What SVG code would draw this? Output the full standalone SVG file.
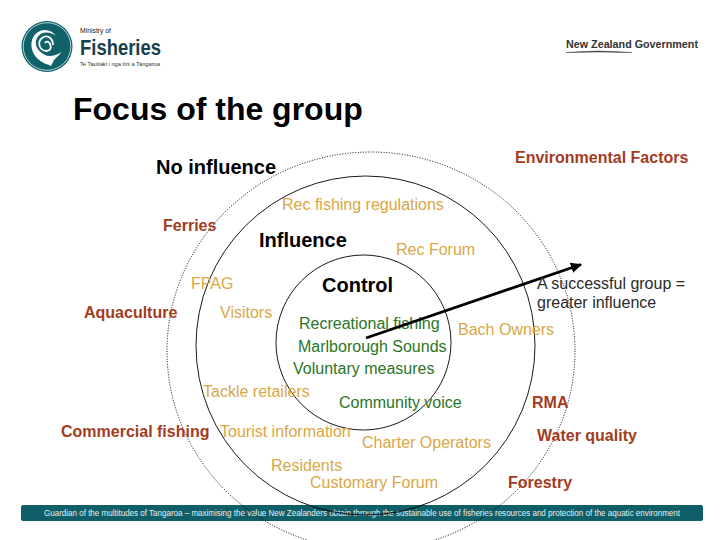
<svg xmlns="http://www.w3.org/2000/svg" width="720" height="540" viewBox="0 0 720 540">
<style>
text{font-family:"Liberation Sans",Arial,sans-serif;font-size:16px}
.h{font-weight:700;fill:#000;font-size:20px}
.b{font-weight:700;fill:#a33c1e}
.o{fill:#d9a745}
.g{fill:#2a7527}
.k{fill:#2a2a2a}
.c{fill:none;stroke:#000}
.d{stroke-dasharray:1 1.6}
</style>
<defs>
<marker id="ah" markerWidth="5" markerHeight="5" refX="3.6" refY="2.5" orient="auto"><path d="M0 .6L4 2.5L0 4.4z" fill="#000"/></marker>
</defs>
<rect width="720" height="540" fill="#fff"/>
<g id="logo">
<circle cx="47" cy="46.500" r="25.500" fill="#0f6269"/>
<circle cx="47" cy="46.500" r="23.800" fill="none" stroke="#fff" stroke-width=".7"/>
<path d="M56 36C50 27 36 28 32 40C29 52 38 62 49 65L51 66L54 60L62 52C55 56 49 57 45 55C37 51 34 44 37 38C41 31 50 31 56 36z" fill="#fff"/>
<path d="M53 45C53 38 47 34 42 38C37 42 39 50 46 51C50 51 52 48 50 44C49 41 46 41 45 43" fill="none" stroke="#fff" stroke-width="1.800"/>
<text x="80" y="33" style="font-size:7.500px" fill="#222" textLength="31" lengthAdjust="spacingAndGlyphs">Ministry of</text>
<text x="80" y="55" style="font-size:22px;font-weight:700" fill="#17404a" textLength="81" lengthAdjust="spacingAndGlyphs">Fisheries</text>
<text x="80" y="66" style="font-size:6px" fill="#333" textLength="80" lengthAdjust="spacingAndGlyphs">Te Tautiaki i nga tini a Tangaroa</text>
</g>
<g id="govt">
<text x="566" y="48" style="font-size:11px;font-weight:700" fill="#333" textLength="132" lengthAdjust="spacingAndGlyphs">New Zealand Government</text>
<path d="M566 52.500Q598 49.500 632 52.500Q598 51.500 566 52.500z" fill="#444" stroke="#444" stroke-width=".5"/>
</g>
<g id="footer">
<rect x="21" y="505" width="682" height="16" rx="2" fill="#0f5f68"/>
<text x="44" y="516" style="font-size:8.400px" fill="#e8f0f0" textLength="636" lengthAdjust="spacingAndGlyphs">Guardian of the multitudes of Tangaroa – maximising the value New Zealanders obtain through the sustainable use of fisheries resources and protection of the aquatic environment</text>
</g>
<g id="rings">
<ellipse id="outer-ring" class="c d" cx="371" cy="351" rx="204" ry="199"/>
<circle id="middle-ring" class="c" cx="365.500" cy="345.500" r="169.500" stroke-width=".9"/>
<circle id="inner-ring" class="c" cx="363.500" cy="342.500" r="87.500" stroke-width=".9"/>
</g>
<text x="73" y="120" style="font-size:32px" class="h">Focus of the group</text>
<g id="labels-headings">
<text x="156" y="174" class="h">No influence</text>
<text x="259" y="247" class="h">Influence</text>
<text x="322" y="292" class="h">Control</text>
</g>
<g id="labels-outer">
<text x="515" y="163" class="b">Environmental Factors</text>
<text x="163" y="231" class="b">Ferries</text>
<text x="84" y="318" class="b">Aquaculture</text>
<text x="61" y="437" class="b">Commercial fishing</text>
<text x="532" y="408" class="b">RMA</text>
<text x="537" y="441" class="b">Water quality</text>
<text x="508" y="488" class="b">Forestry</text>
</g>
<g id="labels-influence">
<text x="282" y="210" class="o">Rec fishing regulations</text>
<text x="396" y="255" class="o">Rec Forum</text>
<text x="191" y="289" class="o">FPAG</text>
<text x="220" y="318" class="o">Visitors</text>
<text x="458" y="335" class="o">Bach Owners</text>
<text x="203" y="397" class="o">Tackle retailers</text>
<text x="220" y="437" class="o">Tourist information</text>
<text x="362" y="448" class="o">Charter Operators</text>
<text x="271" y="471" class="o">Residents</text>
<text x="310" y="488" class="o">Customary Forum</text>
</g>
<g id="labels-control">
<text x="299" y="329" class="g">Recreational fishing</text>
<text x="298" y="352" class="g">Marlborough Sounds</text>
<text x="293" y="374" class="g">Voluntary measures</text>
<text x="339" y="408" class="g">Community voice</text>
</g>
<g id="connectors">
<line x1="366" y1="338" x2="581" y2="264.500" stroke="#000" stroke-width="2.800" marker-end="url(#ah)"/>
</g>
<g id="note">
<text x="537" y="289" class="k">A successful group =</text>
<text x="537" y="308" class="k">greater influence</text>
</g>
</svg>
